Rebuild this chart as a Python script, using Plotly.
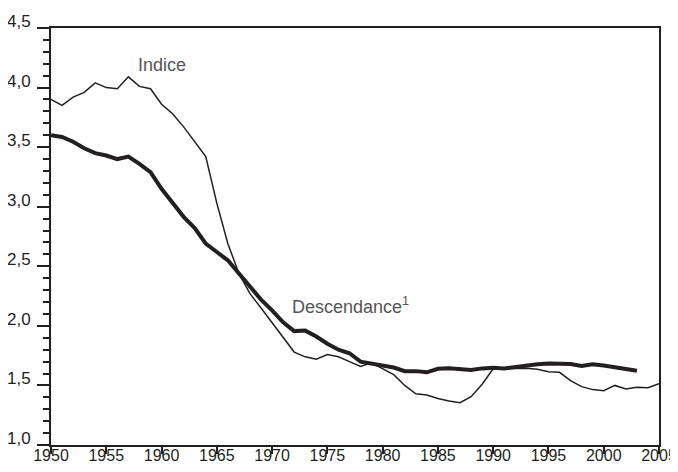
import plotly.graph_objects as go

years = list(range(1950, 2006))
indice = [3.90, 3.85, 3.92, 3.96, 4.04, 4.00, 3.99, 4.09, 4.01, 3.99,
          3.86, 3.78, 3.67, 3.55, 3.42, 3.03, 2.69, 2.44, 2.27, 2.15,
          2.03, 1.91, 1.78, 1.74, 1.72, 1.76, 1.74, 1.70, 1.66, 1.69,
          1.64, 1.59, 1.50, 1.43, 1.42, 1.39, 1.37, 1.355, 1.405, 1.51,
          1.64, 1.64, 1.645, 1.645, 1.635, 1.615, 1.61, 1.54, 1.49, 1.465,
          1.455, 1.50, 1.47, 1.485, 1.48, 1.515]

desc_years = list(range(1950, 2004))
descendance = [3.60, 3.586, 3.545, 3.49, 3.45, 3.43, 3.40, 3.42, 3.36, 3.29,
               3.15, 3.03, 2.915, 2.82, 2.69, 2.62, 2.55, 2.44, 2.33, 2.22,
               2.13, 2.03, 1.956, 1.96, 1.91, 1.85, 1.80, 1.77, 1.70, 1.685,
               1.665, 1.65, 1.62, 1.62, 1.61, 1.64, 1.645, 1.64, 1.63, 1.643,
               1.649, 1.643, 1.657, 1.663, 1.677, 1.685, 1.685, 1.68, 1.663, 1.677,
               1.668, 1.649, 1.638, 1.624]

y_ticks = [1.0, 1.5, 2.0, 2.5, 3.0, 3.5, 4.0, 4.5]
y_ticktext = ["1,0", "1,5", "2,0", "2,5", "3,0", "3,5", "4,0", "4,5"]
x_ticks = list(range(1950, 2010, 5))

label_indice = "Indice"
label_desc = "Descendance<sup>1</sup>"

FONT = "Liberation Sans, Arial, sans-serif"
INK = "#231f20"

fig = go.Figure()
fig.add_trace(go.Scatter(x=years, y=indice, mode="lines",
                         line=dict(color=INK, width=1.5), showlegend=False))
fig.add_trace(go.Scatter(x=desc_years, y=descendance, mode="lines",
                         line=dict(color=INK, width=4), showlegend=False))

fig.add_annotation(x=1960.05, y=4.19, text=label_indice, showarrow=False,
                   font=dict(family=FONT, size=18, color="#555555"),
                   xanchor="center", yanchor="middle")
fig.add_annotation(x=1971.6, y=2.17, text=label_desc, showarrow=False,
                   font=dict(family=FONT, size=18, color="#555555"),
                   xanchor="left", yanchor="middle")

# page body has an 8px margin on each side, so the figure is 662x456 offset by 8px
fig.update_layout(
    width=662, height=456,
    margin=dict(l=43, r=11, t=20, b=19),
    paper_bgcolor="white", plot_bgcolor="white",
    font=dict(family=FONT, size=16.5, color=INK),
)
fig.update_xaxes(range=[1950, 2005], tickvals=x_ticks, ticks="outside",
                 ticklen=7, tickwidth=1.5, tickcolor=INK, automargin=False,
                 showline=True, linewidth=2, linecolor=INK, mirror=True,
                 showgrid=False, zeroline=False, ticklabelstandoff=-12,
                 ticklabeloverflow="allow", tickfont=dict(size=16))
fig.update_yaxes(range=[1.0, 4.5], tickvals=y_ticks, ticktext=y_ticktext,
                 ticks="outside", ticklen=12, tickwidth=1.5, tickcolor=INK,
                 minor=dict(dtick=0.1, ticks="outside", ticklen=6,
                            tickwidth=1.5, tickcolor=INK, showgrid=False),
                 showline=True, linewidth=2, linecolor=INK, mirror=True,
                 automargin=False, ticklabelstandoff=3,
                 showgrid=False, zeroline=False, ticklabelshift=-7,
                 tickfont=dict(size=17))

fig.write_html("out.html")
